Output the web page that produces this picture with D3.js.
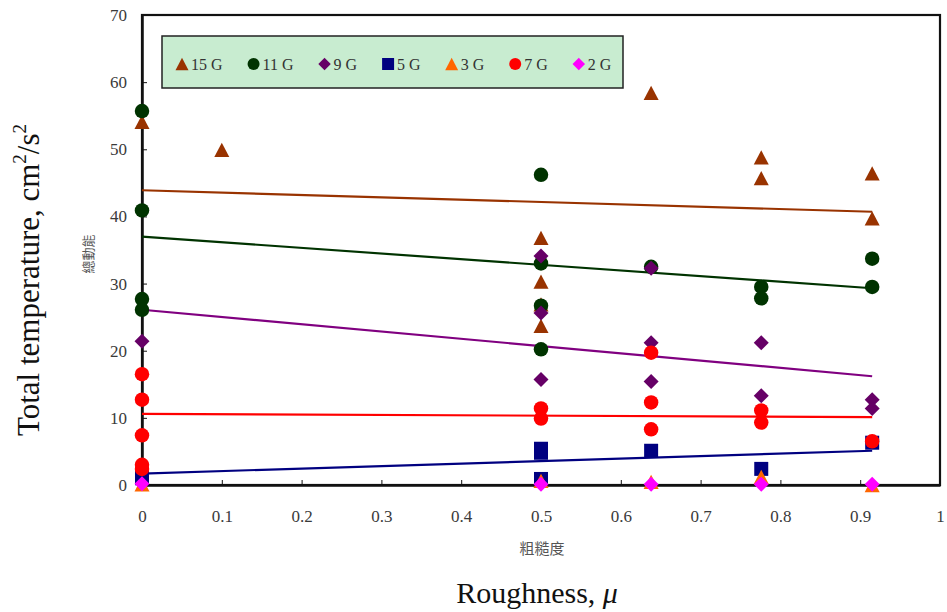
<!DOCTYPE html>
<html>
<head>
<meta charset="utf-8">
<script src="https://cdn.jsdelivr.net/npm/d3@7"></script>
<style>
  html, body { margin: 0; padding: 0; background: #fff; }
  svg { display: block; }
</style>
</head>
<body>
<svg id="chart" width="947" height="612"></svg>
<script>
// ---- data: roughness (x) and total temperature (y) per gravity level ----
const seriesNames = ["15 G", "11 G", "9 G", "5 G", "3 G", "7 G", "2 G"];
const seriesColors = ["#993300", "#003300", "#660066", "#000080", "#ff6600", "#ff0000", "#ff00ff"];
const seriesShapes = ["triangle", "circle", "diamond", "square", "triangle", "circle", "diamond"];

const x15 = [0, 0.1, 0.5, 0.5, 0.5, 0.5, 0.638, 0.776, 0.776, 0.915, 0.915];
const y15 = [54.1, 49.9, 36.8, 30.3, 26.9, 23.7, 58.4, 48.8, 45.7, 46.4, 39.7];

const x11 = [0, 0, 0, 0, 0.5, 0.5, 0.5, 0.5, 0.638, 0.776, 0.776, 0.915, 0.915];
const y11 = [55.7, 40.9, 27.7, 26.1, 46.2, 33.0, 26.7, 20.2, 32.5, 29.5, 27.8, 33.7, 29.5];

const x9 = [0, 0.5, 0.5, 0.5, 0.638, 0.638, 0.638, 0.776, 0.776, 0.915, 0.915];
const y9 = [21.4, 34.1, 25.6, 15.7, 32.3, 21.2, 15.4, 21.2, 13.3, 12.7, 11.4];

const x5 = [0, 0, 0.5, 0.5, 0.5, 0.638, 0.776, 0.915];
const y5 = [1.6, 1.0, 5.4, 4.8, 0.9, 5.1, 2.4, 6.3];

const x3 = [0, 0.5, 0.638, 0.776, 0.915];
const y3 = [0.1, 0.6, 0.45, 1.2, 0.0];

const x7 = [0, 0, 0, 0, 0, 0.5, 0.5, 0.638, 0.638, 0.638, 0.776, 0.776, 0.915];
const y7 = [16.5, 12.7, 7.4, 3.0, 2.4, 11.4, 9.9, 19.7, 12.3, 8.3, 11.1, 9.3, 6.5];

const x2 = [0, 0.5, 0.638, 0.776, 0.915];
const y2 = [0.2, 0.1, 0.1, 0.1, 0.1];

const seriesX = [x15, x11, x9, x5, x3, x7, x2];
const seriesY = [y15, y11, y9, y5, y3, y7, y2];

// linear trend lines (from x = 0 to x = 0.915)
const trendNames = ["15 G", "11 G", "9 G", "7 G", "5 G"];
const trendX0 = [0, 0, 0, 0, 0];
const trendX1 = [0.915, 0.915, 0.915, 0.915, 0.915];
const trendY0 = [43.9, 37.0, 26.1, 10.6, 1.7];
const trendY1 = [40.7, 29.3, 16.2, 10.1, 5.1];

const xTicks = [0, 0.1, 0.2, 0.3, 0.4, 0.5, 0.6, 0.7, 0.8, 0.9, 1];
const yTicks = [0, 10, 20, 30, 40, 50, 60, 70];

// ---- layout ----
const svg = d3.select("#chart");
const plotLeft = 142, plotRight = 940, plotTop = 15, plotBottom = 485;

const x = d3.scaleLinear().domain([0, 1]).range([plotLeft, plotRight]);
const y = d3.scaleLinear().domain([0, 70]).range([plotBottom, plotTop]);

const serif = "'Liberation Serif', 'Times New Roman', serif";
const cjk = "'Noto Sans CJK TC', 'Noto Sans CJK SC', sans-serif";

// custom marker shapes where size = full width in px
const shapeTypes = {
  triangle: { draw(ctx, s) { const w = s / 2, h = s * 0.95 / 2; ctx.moveTo(0, -h); ctx.lineTo(w, h); ctx.lineTo(-w, h); ctx.closePath(); } },
  circle:   { draw(ctx, s) { const r = s / 2; ctx.moveTo(r, 0); ctx.arc(0, 0, r, 0, 2 * Math.PI); ctx.closePath(); } },
  diamond:  { draw(ctx, s) { const r = s / 2; ctx.moveTo(0, -r); ctx.lineTo(r, 0); ctx.lineTo(0, r); ctx.lineTo(-r, 0); ctx.closePath(); } },
  square:   { draw(ctx, s) { const r = s / 2; ctx.rect(-r, -r, s, s); } }
};
const markerSize = { triangle: 15, circle: 14.5, diamond: 15, square: 14 };
const legendSize = { triangle: 13, circle: 12, diamond: 12.5, square: 12 };

// ---- frame ----
svg.append("rect")
  .attr("x", plotLeft).attr("y", plotTop)
  .attr("width", plotRight - plotLeft).attr("height", plotBottom - plotTop)
  .attr("fill", "none").attr("stroke", "#111").attr("stroke-width", 2.2);

// ---- axes ----
const xAxis = d3.axisBottom(x).tickValues(xTicks).tickFormat(d3.format("~g"))
  .tickSizeInner(-5).tickSizeOuter(0).tickPadding(25);
const gx = svg.append("g").attr("transform", `translate(0,${plotBottom})`).call(xAxis);
gx.select(".domain").attr("stroke", "#111").attr("stroke-width", 2.5);
gx.selectAll(".tick line").attr("stroke", "#111").attr("stroke-width", 1);
gx.selectAll(".tick text").attr("font-family", serif).attr("font-size", 17).attr("fill", "#3a3a3a");

const yAxis = d3.axisLeft(y).tickValues(yTicks).tickFormat(d3.format("d"))
  .tickSizeInner(-5).tickSizeOuter(0).tickPadding(15);
const gy = svg.append("g").attr("transform", `translate(${plotLeft},0)`).call(yAxis);
gy.select(".domain").attr("stroke", "#111").attr("stroke-width", 2.5);
gy.selectAll(".tick line").attr("stroke", "#111").attr("stroke-width", 1);
gy.selectAll(".tick text").attr("font-family", serif).attr("font-size", 17).attr("fill", "#3a3a3a");

// ---- trend lines ----
const trendG = svg.append("g");
trendNames.forEach((name, i) => {
  const color = seriesColors[seriesNames.indexOf(name)];
  trendG.append("line")
    .attr("x1", x(trendX0[i])).attr("y1", y(trendY0[i]))
    .attr("x2", x(trendX1[i])).attr("y2", y(trendY1[i]))
    .attr("stroke", name === "9 G" ? "#800080" : color)
    .attr("stroke-width", 2.2);
});

// ---- markers ----
const markG = svg.append("g");
seriesNames.forEach((name, i) => {
  const shape = seriesShapes[i];
  const pts = seriesX[i].map((xv, j) => [xv, seriesY[i][j]]);
  markG.append("g").selectAll("path").data(pts).join("path")
    .attr("transform", d => `translate(${x(d[0])},${y(d[1])})`)
    .attr("d", d3.symbol().type(shapeTypes[shape]).size(markerSize[shape]))
    .attr("fill", seriesColors[i]);
});

// ---- legend ----
const legG = svg.append("g");
legG.append("rect")
  .attr("x", 162).attr("y", 36).attr("width", 461).attr("height", 52)
  .attr("fill", "#c8ecd0").attr("stroke", "#222").attr("stroke-width", 1.5);
let lx = 182;
seriesNames.forEach((name, i) => {
  const shape = seriesShapes[i];
  legG.append("path")
    .attr("transform", `translate(${lx},64)`)
    .attr("d", d3.symbol().type(shapeTypes[shape]).size(legendSize[shape]))
    .attr("fill", seriesColors[i]);
  const t = legG.append("text")
    .attr("x", lx + 9).attr("y", 70)
    .attr("font-family", serif).attr("font-size", 16).attr("fill", "#333")
    .text(name);
  lx = lx + 9 + t.node().getComputedTextLength() + 31;
});

// ---- axis titles ----
svg.append("text")
  .attr("x", 542).attr("y", 554)
  .attr("text-anchor", "middle")
  .attr("font-family", cjk).attr("font-size", 15).attr("fill", "#555")
  .text("粗糙度");

const xt = svg.append("text")
  .attr("x", 537).attr("y", 603)
  .attr("text-anchor", "middle")
  .attr("font-family", serif).attr("font-size", 30).attr("fill", "#111");
xt.append("tspan").text("Roughness, ");
xt.append("tspan").attr("font-style", "italic").text("μ");

const yt = svg.append("text")
  .attr("transform", "translate(39,280) rotate(-90)")
  .attr("text-anchor", "middle")
  .attr("font-family", serif).attr("font-size", 31).attr("fill", "#111");
yt.append("tspan").text("Total temperature, cm");
yt.append("tspan").attr("font-size", 19).attr("dy", -13).text("2");
yt.append("tspan").attr("dy", 13).text("/s");
yt.append("tspan").attr("font-size", 19).attr("dy", -13).text("2");

svg.append("text")
  .attr("transform", "translate(93,254) rotate(-90)")
  .attr("text-anchor", "middle")
  .attr("font-family", cjk).attr("font-size", 13).attr("fill", "#555")
  .text("總動能");
</script>
</body>
</html>
